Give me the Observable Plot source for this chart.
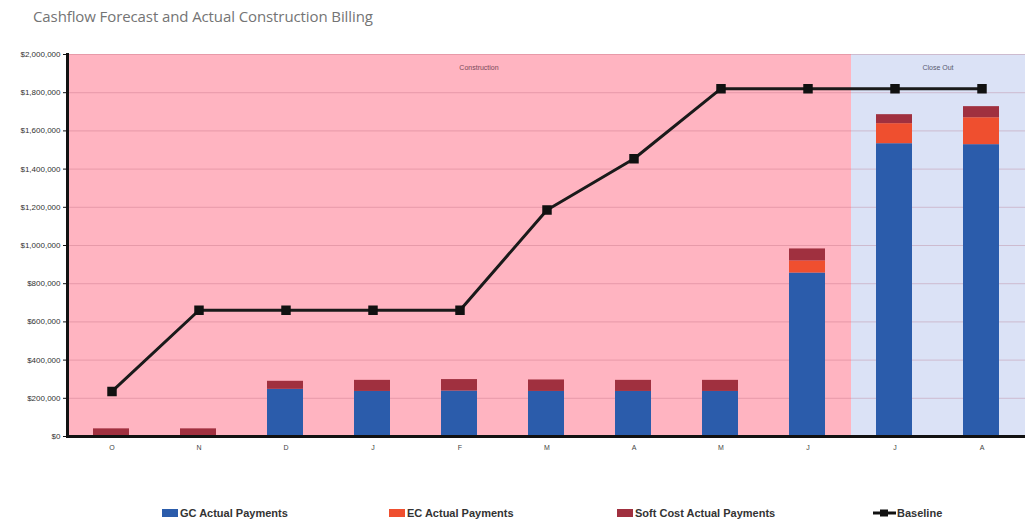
<!DOCTYPE html>
<html>
<head>
<meta charset="utf-8">
<script src="https://cdn.jsdelivr.net/npm/d3@7"></script>
<script src="https://cdn.jsdelivr.net/npm/@observablehq/plot@0.6"></script>
<style>
  html, body { margin: 0; padding: 0; background: #fff; }
  #wrap { position: relative; width: 1030px; height: 529px; overflow: hidden; font-family: "Open Sans", "Liberation Sans", sans-serif; }
  #title { position: absolute; left: 33px; top: 6px; font-size: 15px; color: #747474; letter-spacing: -0.1px; }
  #chart { position: absolute; left: 0; top: 40px; }
  .leg { position: absolute; top: 507px; font-family: "Liberation Sans", Arial, sans-serif; font-weight: bold; font-size: 11px; color: #333; display: flex; align-items: center; white-space: nowrap; }
  .sw { display: inline-block; width: 16px; height: 8px; margin-right: 2px; }
</style>
</head>
<body>
<div id="wrap">
  <div id="title">Cashflow Forecast and Actual Construction Billing</div>
  <div id="chart"></div>
  <div id="legend"></div>
</div>
<script>
// ---- data ----
const months = ["Oct","Nov","Dec","Jan","Feb","Mar","Apr","May","Jun","Jul","Aug"];
const monthLabels = ["O","N","D","J","F","M","A","M","J","J","A"];
const phases = ["Construction","Construction","Construction","Construction","Construction","Construction","Construction","Construction","Construction","Close Out","Close Out"];
const gcActual = [0, 0, 247000, 236000, 238000, 236000, 236000, 236000, 856000, 1533000, 1528000];
const ecActual = [0, 0, 0, 0, 0, 0, 0, 0, 63000, 105000, 141000];
const softActual = [40000, 40000, 42000, 58000, 60000, 60000, 58000, 58000, 63000, 47000, 58000];
const baseline = [236000, 661000, 661000, 661000, 661000, 1186000, 1454000, 1821000, 1821000, 1821000, 1821000];
const seriesNames = ["GC Actual Payments", "EC Actual Payments", "Soft Cost Actual Payments"];
const seriesColors = ["#2b5cab", "#ef4f2f", "#a0303f"];
const yTicks = [0, 200000, 400000, 600000, 800000, 1000000, 1200000, 1400000, 1600000, 1800000, 2000000];

// ---- derived tables ----
const stacked = [];
months.forEach((m, i) => {
  [gcActual, ecActual, softActual].forEach((arr, s) => {
    stacked.push({month: m, series: seriesNames[s], value: arr[i]});
  });
});
const bg = months.map((m, i) => ({month: m, phase: phases[i]}));
const baseData = months.map((m, i) => ({month: m, value: baseline[i]}));
const labelFor = Object.fromEntries(months.map((m, i) => [m, monthLabels[i]]));

const plot = Plot.plot({
  width: 1030,
  height: 426,
  marginTop: 14,
  marginBottom: 30,
  marginLeft: 67,
  marginRight: 5,
  style: {fontFamily: "Liberation Sans, Arial, sans-serif", background: "transparent"},
  x: {domain: months, padding: 0, label: null},
  y: {domain: [0, 2000000], label: null},
  color: {domain: seriesNames, range: seriesColors},
  marks: [
    Plot.barY(bg.filter(d => d.phase === "Construction"), {x: "month", y1: 0, y2: 2000000, fill: "#ffb4c1", inset: 0}),
    Plot.barY(bg.filter(d => d.phase === "Close Out"), {x: "month", y1: 0, y2: 2000000, fill: "#dbe2f6", inset: 0}),
    Plot.ruleY(yTicks.filter(v => v > 0), {stroke: "#a8566a", strokeOpacity: 0.28, strokeWidth: 1}),
    Plot.text(["Construction"], {x: () => "Feb", y: () => 2000000, text: d => d, dx: 19, dy: 13, fontSize: 7, fill: "#7a4a5a"}),
    Plot.text(["Close Out"], {x: () => "Jul", y: () => 2000000, text: d => d, dx: 43, dy: 13, fontSize: 7, fill: "#5a5a70"}),
    Plot.barY(stacked, {x: "month", y: "value", fill: "series", insetLeft: 25, insetRight: 26, order: seriesNames}),
    Plot.line(baseData, {x: "month", y: "value", stroke: "#1a1a1a", strokeWidth: 3}),
    Plot.dot(baseData, {x: "month", y: "value", symbol: "square", r: 4.5, fill: "#111", stroke: "#111"}),
    Plot.axisY({ticks: yTicks, tickFormat: d3.format("$,"), tickSize: 4, tickPadding: 3, fontSize: 8, stroke: "#111", fill: "#333"}),
    Plot.axisX({tickFormat: d => labelFor[d], tickSize: 0, tickPadding: 9, fontSize: 7, fill: "#444"}),
    Plot.frame({anchor: "left", stroke: "#111", strokeWidth: 3}),
    Plot.ruleY([0], {stroke: "#111", strokeWidth: 3})
  ]
});
document.getElementById("chart").appendChild(plot);

// ---- legend ----
const legend = document.getElementById("legend");
const legLefts = [162, 389, 617];
seriesNames.forEach((name, i) => {
  const item = document.createElement("div");
  item.className = "leg";
  item.style.left = legLefts[i] + "px";
  item.innerHTML = `<span class="sw" style="background:${seriesColors[i]}"></span>${name}`;
  legend.appendChild(item);
});
const bItem = document.createElement("div");
bItem.className = "leg";
bItem.style.left = "873px";
bItem.innerHTML = `<svg width="23" height="10" style="margin-right:1px"><line x1="0" y1="5" x2="23" y2="5" stroke="#111" stroke-width="3"/><rect x="7" y="1.5" width="8" height="7" fill="#111"/></svg>Baseline`;
legend.appendChild(bItem);
</script>
</body>
</html>
